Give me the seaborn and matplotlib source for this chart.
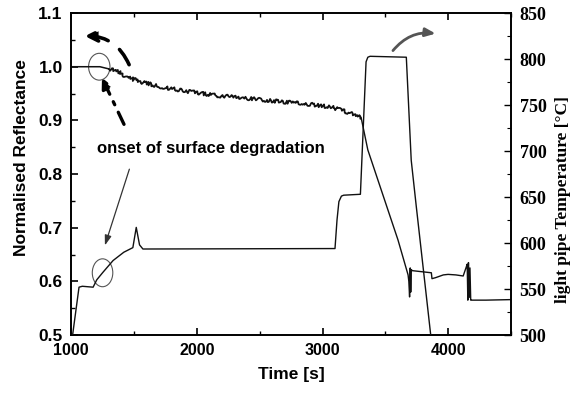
import numpy as np
import pandas as pd
import matplotlib
matplotlib.use("Agg")
import matplotlib.pyplot as plt
import seaborn as sns
from matplotlib.patches import Ellipse
from matplotlib.ticker import MultipleLocator

# ---- data ----
refl_time = [1000, 1230, 1300, 1380, 1444, 1550, 1710, 1900, 2133, 2400, 2668,
             2900, 3067, 3147, 3230, 3306, 3360, 3440, 3520, 3600, 3680, 3686,
             3692, 3697, 3701, 3706, 3712, 3865, 3870, 3900, 3960, 3998, 4060,
             4118, 4140, 4150, 4155, 4160, 4166, 4172, 4178, 4184, 4300, 4500]
refl_value = [1.000, 1.000, 0.996, 0.990, 0.981, 0.972, 0.963, 0.955, 0.947, 0.941, 0.935,
              0.930, 0.925, 0.919, 0.913, 0.906, 0.845, 0.789, 0.733, 0.677, 0.612, 0.600,
              0.571, 0.625, 0.580, 0.622, 0.620, 0.616, 0.605, 0.607, 0.612, 0.613, 0.612,
              0.610, 0.625, 0.632, 0.565, 0.635, 0.570, 0.625, 0.565, 0.565, 0.565, 0.566]

temp_time = [1013, 1064, 1090, 1176, 1205, 1253, 1335, 1420, 1492, 1519, 1545,
             1572, 3099, 3115, 3130, 3150, 3168, 3301, 3346, 3360, 3378, 3666,
             3705, 3745, 3860]
temp_value = [500, 552, 553, 552, 560, 568, 581, 590, 595, 617, 598,
              593.5, 594, 625, 645, 651, 652, 653, 797, 802, 803, 802,
              690, 640, 500]

refl = pd.DataFrame({"time": refl_time, "refl": refl_value})
temp = pd.DataFrame({"time": temp_time, "temp": temp_value})

sns.set_style("ticks")
sans = ["Liberation Sans", "DejaVu Sans"]
serif = ["Liberation Serif", "DejaVu Serif"]
plt.rcParams["font.family"] = sans
plt.rcParams["text.color"] = "black"
plt.rcParams["axes.labelcolor"] = "black"
plt.rcParams["xtick.color"] = "black"
plt.rcParams["ytick.color"] = "black"

fig = plt.figure(figsize=(5.77, 3.96), dpi=100)
ax = fig.add_axes([0.123, 0.154, 0.763, 0.813])
ax2 = ax.twinx()

line_col = "#111111"
# smooth part + noisy part of the reflectance trace
smooth = refl[refl["time"] <= 1300]
noisy = refl[(refl["time"] >= 1300) & (refl["time"] <= 3306)]
rest = refl[refl["time"] >= 3306]
sns.lineplot(data=smooth, x="time", y="refl", ax=ax, color=line_col, lw=1.1,
             estimator=None, sort=False)
sns.lineplot(data=noisy, x="time", y="refl", ax=ax, color=line_col, lw=1.3,
             estimator=None, sort=False)
ax.lines[-1].set_sketch_params(scale=1.8, length=2.5, randomness=8)
sns.lineplot(data=rest, x="time", y="refl", ax=ax, color=line_col, lw=1.0,
             estimator=None, sort=False)
sns.lineplot(data=temp, x="time", y="temp", ax=ax2, color=line_col, lw=1.0,
             estimator=None, sort=False)

ax.set_xlim(1000, 4500)
ax.set_ylim(0.5, 1.1)
ax2.set_ylim(500, 850)
ax.xaxis.set_major_locator(MultipleLocator(1000))
ax.xaxis.set_minor_locator(MultipleLocator(500))
ax.yaxis.set_major_locator(MultipleLocator(0.1))
ax.yaxis.set_minor_locator(MultipleLocator(0.05))
ax2.yaxis.set_major_locator(MultipleLocator(50))
ax2.yaxis.set_minor_locator(MultipleLocator(25))

ax.tick_params(axis="x", which="both", direction="in", top=True, bottom=True)
ax.tick_params(axis="y", which="both", direction="in", left=True, right=False)
ax2.tick_params(axis="y", which="both", direction="in", right=True)
ax.tick_params(which="major", length=5, width=1.2, pad=6)
ax.tick_params(axis="x", labelsize=11.5)
ax.tick_params(axis="y", labelsize=12.5)
ax.tick_params(which="minor", length=3, width=1.0)
ax2.tick_params(which="major", length=5, width=1.0, labelsize=13, pad=6)
ax2.tick_params(which="minor", length=3, width=0.8)
ax.yaxis.set_major_formatter(plt.FormatStrFormatter("%.1f"))
for lab in ax.get_xticklabels() + ax.get_yticklabels():
    lab.set_fontweight("bold")
for lab in ax2.get_yticklabels():
    lab.set_fontweight("bold")
    lab.set_family(serif)

for sp in ax.spines.values():
    sp.set_linewidth(1.4)
    sp.set_color("black")
for sp in ax2.spines.values():
    sp.set_visible(False)

ax.set_xlabel("Time [s]", fontsize=12.5, fontweight="bold", labelpad=6)
ax.set_ylabel("Normalised Reflectance", fontsize=12.5, fontweight="bold")
ax.yaxis.set_label_coords(-0.095, 0.55)
ax2.set_ylabel("light pipe Temperature [\u00b0C]", fontsize=12.5, fontweight="bold",
               family=serif)
ax2.yaxis.set_label_coords(1.1, 0.42)

# ---- annotations ----
ax.text(2111, 0.848, "onset of surface degradation", fontsize=12, fontweight="bold",
        ha="center", va="center")
ax.add_patch(Ellipse((1225, 1.0), 170, 0.05, fill=False, ec="#555555", lw=0.8))
ax.add_patch(Ellipse((1251, 0.616), 163, 0.052, fill=False, ec="#555555", lw=0.8))

ax.annotate("", xy=(1237, 0.984), xytext=(1431, 0.888),
            arrowprops=dict(arrowstyle="-|>,head_length=0.6,head_width=0.3",
                            color="black", lw=2.4, linestyle=(0, (4, 2.5, 1, 2.5))))
ax.annotate("", xy=(1263, 0.662), xytext=(1471, 0.814),
            arrowprops=dict(arrowstyle="-|>,head_length=0.6,head_width=0.2",
                            color="#333333", lw=0.9))
ax.annotate("", xy=(1088, 1.057), xytext=(1471, 0.999),
            arrowprops=dict(arrowstyle="-|>,head_length=0.7,head_width=0.35",
                            color="black", lw=2.6, linestyle=(0, (5, 4)),
                            connectionstyle="arc3,rad=0.35"))
ax.annotate("", xy=(3921, 1.061), xytext=(3546, 1.026),
            arrowprops=dict(arrowstyle="-|>,head_length=0.6,head_width=0.25",
                            color="#555555", lw=2.0,
                            connectionstyle="arc3,rad=-0.3"))

fig.savefig("out.png", dpi=100)
